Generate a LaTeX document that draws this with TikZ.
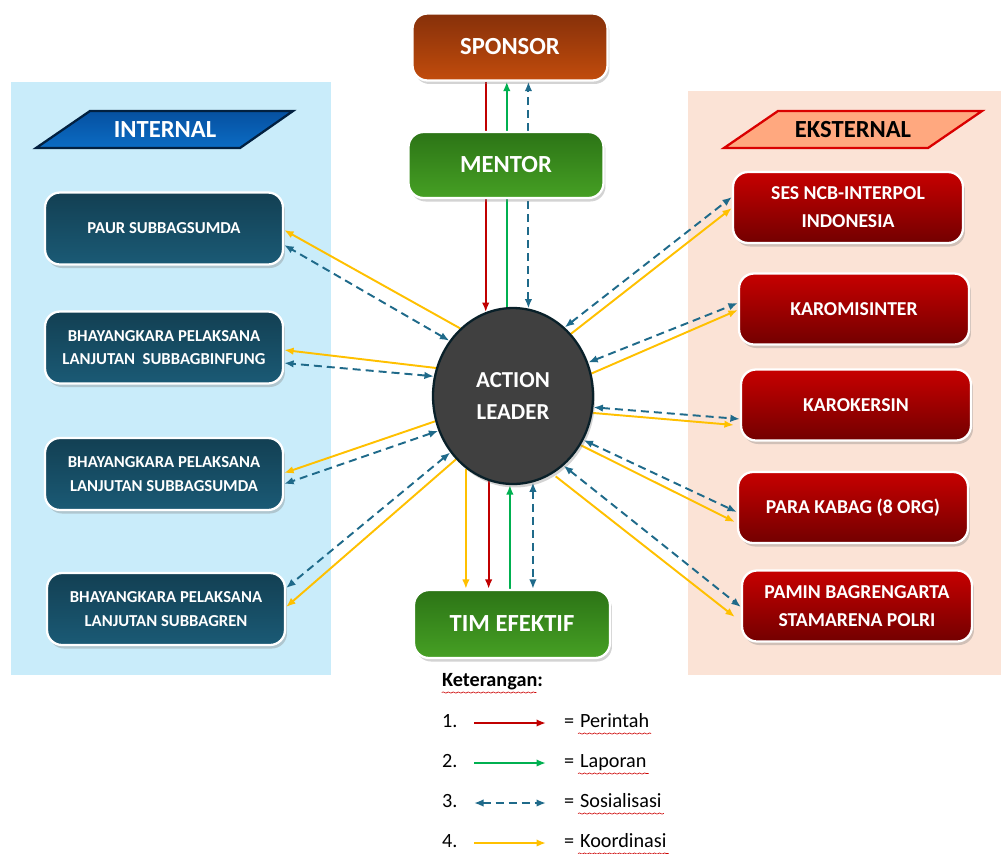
\documentclass[tikz,border=0pt]{standalone}
\usepackage{fontspec}
\setmainfont{Carlito}
\usetikzlibrary{arrows.meta,shadows,calc,decorations.pathmorphing,shapes.geometric}
\pgfdeclarelayer{panel}\pgfdeclarelayer{edge}
\pgfsetlayers{panel,edge,main}
\definecolor{cred}{HTML}{C00000}
\definecolor{cgreen}{HTML}{00B050}
\definecolor{cblue}{HTML}{1F6A8A}
\definecolor{cyel}{HTML}{FFC000}
\definecolor{panelblue}{HTML}{C9ECFA}
\definecolor{panelpink}{HTML}{FBE3D6}
\definecolor{sptop}{HTML}{86300A}
\definecolor{spbot}{HTML}{C24C0C}
\definecolor{grtop}{HTML}{2C7416}
\definecolor{grbot}{HTML}{46A024}
\definecolor{intop}{HTML}{0650A0}
\definecolor{inbot}{HTML}{0B6CC4}
\tikzset{
  x=0.02cm, y=-0.02cm,
  box/.style={rounded corners=3mm, draw=white, line width=1.3pt, inner sep=0pt,
    drop shadow={opacity=0.35, shadow xshift=0.4mm, shadow yshift=-0.7mm},
    text=white, align=center, font=\bfseries\fontsize{9.5}{13.5}\selectfont},
  lbox/.style={box, top color=black!40!cblue, bottom color=cblue!85!black,
    minimum width=4.76cm, minimum height=1.44cm},
  rbox/.style={box, top color=red!78!black, bottom color=red!45!black,
    minimum width=4.6cm, minimum height=1.42cm, font=\bfseries\fontsize{11.2}{16}\selectfont},
  gbox/.style={box, top color=grtop, bottom color=grbot,
    font=\bfseries\fontsize{14}{16}\selectfont},
  perintah/.style={cred, line width=1.1pt, -{Latex[length=1.9mm,width=1.5mm]}},
  laporan/.style={cgreen, line width=1.1pt, -{Latex[length=1.9mm,width=1.5mm]}},
  sosial/.style={cblue, line width=1.1pt, dash pattern=on 1.6mm off 1mm,
    {Latex[length=1.9mm,width=1.5mm]}-{Latex[length=1.9mm,width=1.5mm]}},
  koord/.style={cyel, line width=1.1pt, -{Latex[length=1.9mm,width=1.5mm]}},
  legtxt/.style={anchor=west, inner sep=1pt, text height=1.55ex, text depth=0.45ex,
    font=\fontsize{11.5}{13}\selectfont},
  squig/.style={red!80!black, line width=0.35pt, decorate,
    decoration={snake, amplitude=0.35pt, segment length=1mm}},
}
\begin{document}
\begin{tikzpicture}
\useasboundingbox (0,0) rectangle (1001,853);
\begin{pgfonlayer}{panel}
  \fill[panelblue] (11,82) rectangle (331,675);
  \fill[panelpink] (688,91) rectangle (1001,675);
\end{pgfonlayer}
% header parallelograms
\draw[line width=1.3pt, draw=black!60!intop, top color=intop, bottom color=inbot]
  (36,148) -- (90,111) -- (293,111) -- (240,148) -- cycle;
\node[text=white, font=\bfseries\fontsize{14}{16}\selectfont] (intl) at (165,130) {INTERNAL};
\draw[line width=1.3pt, draw=red!85!black, fill=orange!45!pink!90!red!80]
  (724,148) -- (778,111) -- (982,111) -- (928,148) -- cycle;
\node[text=black, font=\bfseries\fontsize{14}{16}\selectfont] (extl) at (853,130) {EKSTERNAL};

% centre nodes
\node[box, top color=sptop, bottom color=spbot,
  minimum width=3.9cm, minimum height=1.34cm, font=\bfseries\fontsize{14}{16}\selectfont] (sp) at (510,47) {SPONSOR};
\node[gbox, minimum width=3.9cm, minimum height=1.32cm] (me) at (506,165) {MENTOR};
\node[gbox, minimum width=3.92cm, minimum height=1.36cm] (tim) at (512,624) {TIM EFEKTIF};
\node[ellipse, draw=black!70!cblue, line width=1.3pt, fill=black!75,
  drop shadow={opacity=0.35, shadow xshift=0.4mm, shadow yshift=-0.7mm},
  minimum width=3.2cm, minimum height=3.52cm, inner sep=0pt, text=white, align=center,
  font=\bfseries\fontsize{13}{18}\selectfont] (al) at (513,396) {ACTION\\LEADER};

% left boxes
\node[lbox] (b1) at (164,228.5) {PAUR SUBBAGSUMDA};
\node[lbox] (b2) at (164,347.5) {BHAYANGKARA PELAKSANA\\LANJUTAN~ SUBBAGBINFUNG};
\node[lbox] (b3) at (164,474) {BHAYANGKARA PELAKSANA\\LANJUTAN SUBBAGSUMDA};
\node[lbox] (b4) at (166,609) {BHAYANGKARA PELAKSANA\\LANJUTAN SUBBAGREN};

% right boxes
\node[rbox] (r1) at (848,207.5) {SES NCB-INTERPOL\\INDONESIA};
\node[rbox] (r2) at (854,309) {KAROMISINTER};
\node[rbox] (r3) at (856,405) {KAROKERSIN};
\node[rbox] (r4) at (853,507.5) {PARA KABAG (8 ORG)};
\node[rbox] (r5) at (857,606) {PAMIN BAGRENGARTA\\STAMARENA POLRI};

\begin{pgfonlayer}{edge}
  % top
  \draw[perintah] (sp.south -| al.108.9) -- (al.108.9);
  \draw[laporan] (al.94.5) -- (sp.south -| al.94.5);
  \draw[sosial] (al.80.1) -- (sp.south -| al.80.1);
  % bottom
  \draw[koord] (al.237.4) -- (tim.north -| al.237.4);
  \draw[perintah] (al.254.7) -- (tim.north -| al.254.7);
  \draw[laporan] (tim.north -| al.268) -- (al.268);
  \draw[sosial] (al.283.2) -- (tim.north -| al.283.2);
  % left
  \draw[koord] (al.128.8) -- ($(b1.east)+(0,1.5)$);
  \draw[sosial] (al.139.3) -- ($(b1.east)+(0,16.5)$);
  \draw[koord] (al.160.9) -- ($(b2.east)+(0,2.5)$);
  \draw[sosial] (al.166.8) -- ($(b2.east)+(0,15.5)$);
  \draw[koord] (al.198.6) -- ($(b3.east)+(0,-1)$);
  \draw[sosial] (al.205.6) -- ($(b3.east)+(0,10)$);
  \draw[sosial] (al.222.1) -- ($(b4.east)+(0,-21)$);
  \draw[koord] (al.228.7) -- ($(b4.east)+(0,-2)$);
  % right
  \draw[sosial] (al.53.8) -- ($(r1.west)+(0,-10.5)$);
  \draw[koord] (al.47.9) -- ($(r1.west)+(0,0.5)$);
  \draw[sosial] (al.24.2) -- ($(r2.west)+(0,-6)$);
  \draw[koord] (al.16.9) -- ($(r2.west)+(0,1)$);
  \draw[sosial] (al.-8.3) -- ($(r3.west)+(0,14)$);
  \draw[koord] (al.-12.5) -- ($(r3.west)+(-6,20)$);
  \draw[sosial] (al.-32.7) -- ($(r4.west)+(0,4.5)$);
  \draw[koord] (al.-36.7) -- ($(r4.west)+(-2,14.5)$);
  \draw[sosial] (al.-54.5) -- ($(r5.west)+(0,1)$);
  \draw[koord] ($(al.-59.2)+(-2,6)$) -- ($(r5.west)+(-6,11)$);
\end{pgfonlayer}

% legend
\node[legtxt, font=\bfseries\fontsize{11.5}{13}\selectfont] (ket) at (440,682) {Keterangan:};
\draw[squig] ([xshift=1pt]ket.south west) -- ([xshift=-5pt]ket.south east);
\foreach \n/\yy/\sty/\lab in {1/723/perintah/Perintah, 2/763/laporan/Laporan, 4/843/koord/Koordinasi}{
  \node[legtxt] (num\n) at (440,\yy) {\n.};
  \coordinate (la\n) at (474,\yy);
  \coordinate (lb\n) at (546,\yy);
  \draw[\sty] (la\n) -- (lb\n);
  \node[legtxt] (eq\n) at (562,\yy) {=};
  \node[legtxt] (lab\n) at (578,\yy) {\lab};
  \draw[squig] (lab\n.south west) -- (lab\n.south east);
}
\node[legtxt] (num3) at (440,803) {3.};
\coordinate (la3) at (474,803);
\coordinate (lb3) at (546,803);
\draw[sosial] (la3) -- (lb3);
\node[legtxt] (eq3) at (562,803) {=};
\node[legtxt] (lab3) at (578,803) {Sosialisasi};
\draw[squig] (lab3.south west) -- (lab3.south east);
\end{tikzpicture}
\end{document}
